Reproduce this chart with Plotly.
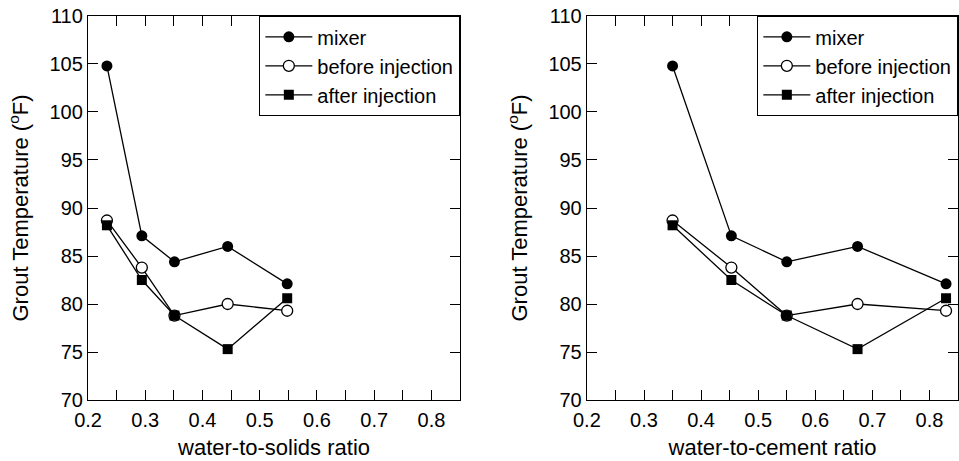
import plotly.graph_objects as go

# data
ws_ratio = [0.233, 0.294, 0.351, 0.444, 0.548]
wc_ratio = [0.35, 0.453, 0.55, 0.674, 0.829]
mixer = [104.8, 87.1, 84.4, 86.0, 82.1]
before_inj = [88.7, 83.8, 78.8, 80.0, 79.3]
after_inj = [88.2, 82.5, 78.8, 75.3, 80.6]

x_ticks = [0.2, 0.25, 0.3, 0.35, 0.4, 0.45, 0.5, 0.55, 0.6, 0.65, 0.7, 0.75, 0.8, 0.85]
x_labels = ["0.2", "", "0.3", "", "0.4", "", "0.5", "", "0.6", "", "0.7", "", "0.8", ""]
y_ticks = [70, 75, 80, 85, 90, 95, 100, 105, 110]

FONT = "Liberation Sans, Arial, sans-serif"

series = [
    ("mixer", mixer, dict(symbol="circle", size=11, color="black")),
    ("before injection", before_inj,
     dict(symbol="circle", size=11, color="white", line=dict(color="black", width=1.3))),
    ("after injection", after_inj, dict(symbol="square", size=10, color="black")),
]

fig = go.Figure()

for xs, xa, ya, leg in [(ws_ratio, "x", "y", "legend"), (wc_ratio, "x2", "y2", "legend2")]:
    for name, vals, mk in series:
        fig.add_trace(go.Scatter(
            x=xs, y=vals, name=name, mode="lines+markers",
            line=dict(color="black", width=1.3), marker=mk,
            xaxis=xa, yaxis=ya, legend=leg,
        ))

xcommon = dict(range=[0.2, 0.85], tickvals=x_ticks, ticktext=x_labels,
               ticks="inside", ticklen=10, tickwidth=1.2, tickcolor="black",
               showline=True, linecolor="black", linewidth=1.3, mirror="ticks",
               showgrid=False, zeroline=False, automargin=False,
               ticklabelstandoff=2,
               tickfont=dict(size=20, color="black", family=FONT))
ycommon = dict(range=[70, 110], tickvals=y_ticks,
               ticks="inside", ticklen=10, tickwidth=1.2, tickcolor="black",
               showline=True, linecolor="black", linewidth=1.3, mirror="ticks",
               showgrid=False, zeroline=False, automargin=False,
               tickfont=dict(size=20, color="black", family=FONT),
               title=dict(text="Grout Temperature (<sup>o</sup>F)", standoff=14,
                          font=dict(size=22, color="black", family=FONT)))

legcommon = dict(bgcolor="white", bordercolor="black", borderwidth=1.3,
                 font=dict(size=20, color="black", family=FONT),
                 xanchor="right", yanchor="top", tracegroupgap=0, itemwidth=47)

fig.update_layout(
    width=959, height=461,
    margin=dict(l=0, r=0, t=0, b=0, autoexpand=False),
    paper_bgcolor="white", plot_bgcolor="white",
    xaxis=dict(domain=[0.0918, 0.4797], anchor="y", **xcommon,
               title=dict(text="water-to-solids ratio", standoff=9,
                          font=dict(size=22, color="black", family=FONT))),
    yaxis=dict(domain=[0.1323, 0.9653], anchor="x", **ycommon),
    xaxis2=dict(domain=[0.612, 0.999], anchor="y2", **xcommon,
                title=dict(text="water-to-cement ratio", standoff=9,
                           font=dict(size=22, color="black", family=FONT))),
    yaxis2=dict(domain=[0.1323, 0.9653], anchor="x2", **ycommon),
    legend=dict(x=0.4797, y=0.9653, **legcommon),
    legend2=dict(x=0.999, y=0.9653, **legcommon),
)

# drop the default 8px page margin so the figure fills the window exactly
fig.write_html("out.html", config={"displayModeBar": False},
               post_script="document.body.style.margin='0px';")
